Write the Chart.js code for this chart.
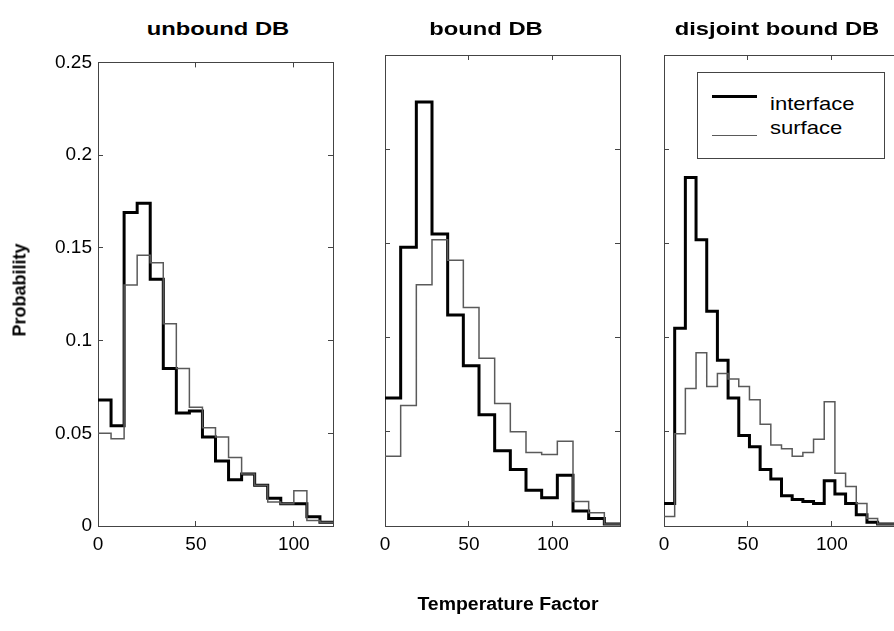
<!DOCTYPE html>
<html>
<head>
<meta charset="utf-8">
<script src="https://cdn.jsdelivr.net/npm/chart.js@4.4.0/dist/chart.umd.min.js"></script>
<style>
  body { margin: 0; background: #fff; overflow: hidden; }
  #wrap { position: relative; width: 894px; height: 631px; overflow: hidden; font-family: "Liberation Sans", Arial, sans-serif; color: #000; }
  canvas.panel { position: absolute; top: 40px; }
  .title { position: absolute; top: 19px; font-weight: bold; font-size: 18px; white-space: nowrap; transform: translateX(-50%) scaleX(1.32); }
  #xlabel { position: absolute; left: 508px; top: 594px; font-weight: bold; font-size: 18px; white-space: nowrap; transform: translateX(-50%) scaleX(1.08); }
  #ylabel { position: absolute; left: 20px; top: 290px; font-weight: bold; font-size: 18px; white-space: nowrap; transform: translate(-50%, -50%) rotate(-90deg); }
  #legend { position: absolute; left: 697px; top: 72px; width: 186px; height: 85px; border: 1px solid #444; background: #fff; }
  .lline { position: absolute; left: 14px; width: 45px; }
  .ltext { position: absolute; left: 72px; font-size: 19px; white-space: nowrap; transform-origin: left center; transform: scaleX(1.16); }
</style>
</head>
<body>
<div id="wrap">
  <canvas id="panel1" class="panel" width="348" height="531" style="left:0px"></canvas>
  <canvas id="panel2" class="panel" width="290" height="531" style="left:345px"></canvas>
  <canvas id="panel3" class="panel" width="290" height="531" style="left:624px"></canvas>
  <div class="title" style="left:218px">unbound DB</div>
  <div class="title" style="left:486px">bound DB</div>
  <div class="title" style="left:777px">disjoint bound DB</div>
  <div id="ylabel">Probability</div>
  <div id="xlabel">Temperature Factor</div>
  <div id="legend">
    <div class="lline" style="top:22px;height:0;border-top:3px solid #000"></div>
    <div class="ltext" style="top:20px">interface</div>
    <div class="lline" style="top:62px;height:0;border-top:1.5px solid #5a5a5a"></div>
    <div class="ltext" style="top:44px">surface</div>
  </div>
</div>
<script>
// tick values, same for all three panels
const xTicks = [0, 50, 100];
const yTicks = [0, 0.05, 0.1, 0.15, 0.2, 0.25];

// unbound DB, 18 bins over 0..120
const unboundMax = 120;
const unboundInterface = [0.068, 0.054, 0.169, 0.174, 0.133, 0.085, 0.061, 0.062, 0.048, 0.035, 0.025, 0.028, 0.022, 0.015, 0.012, 0.012, 0.005, 0.002];
const unboundSurface = [0.050, 0.047, 0.130, 0.146, 0.142, 0.109, 0.085, 0.064, 0.053, 0.048, 0.037, 0.028, 0.022, 0.013, 0.012, 0.019, 0.003, 0.002];

// bound DB, 15 bins over 0..140
const boundMax = 140;
const boundInterface = [0.068, 0.148, 0.225, 0.155, 0.112, 0.085, 0.059, 0.040, 0.030, 0.019, 0.015, 0.027, 0.008, 0.004, 0.001];
const boundSurface = [0.037, 0.064, 0.128, 0.152, 0.141, 0.116, 0.089, 0.065, 0.050, 0.039, 0.038, 0.045, 0.013, 0.007, 0.001];

// disjoint bound DB, 22 bins over 0..140
const disjointMax = 140;
const disjointInterface = [0.012, 0.105, 0.185, 0.152, 0.114, 0.088, 0.068, 0.048, 0.042, 0.030, 0.025, 0.016, 0.014, 0.013, 0.012, 0.024, 0.017, 0.012, 0.006, 0.002, 0.001, 0.001];
const disjointSurface = [0.005, 0.049, 0.073, 0.092, 0.074, 0.081, 0.078, 0.074, 0.067, 0.054, 0.043, 0.041, 0.037, 0.039, 0.046, 0.066, 0.028, 0.021, 0.012, 0.004, 0.001, 0.001];

const fontFam = '"Liberation Sans", Arial, sans-serif';
const axisColor = '#444';

// histogram -> points at the left edge of every bin, plus the right end
function steps(values, xmax) {
  const w = xmax / values.length;
  const pts = values.map((v, i) => ({ x: i * w, y: v }));
  pts.push({ x: xmax, y: values[values.length - 1] });
  return pts;
}

function setTicks(list) {
  return (s) => { s.ticks = list.map(v => ({ value: v })); };
}

function makePanel(id, iface, surf, xmax, yWidth, showY) {
  const grid = { drawOnChartArea: false, tickLength: -5, color: axisColor };
  new Chart(document.getElementById(id), {
    type: 'line',
    data: {
      datasets: [
        { label: 'surface', data: steps(surf, xmax), stepped: true, borderColor: '#5a5a5a', borderWidth: 1.5, pointRadius: 0, fill: false },
        { label: 'interface', data: steps(iface, xmax), stepped: true, borderColor: '#000', borderWidth: 3, pointRadius: 0, fill: false },
      ],
    },
    options: {
      responsive: false,
      animation: false,
      layout: { padding: { top: 15, right: 15, left: 0, bottom: 0 } },
      plugins: { legend: { display: false }, tooltip: { enabled: false } },
      scales: {
        x: {
          type: 'linear', position: 'bottom', min: 0, max: xmax,
          afterBuildTicks: setTicks(xTicks),
          afterFit: (s) => { s.height = 45; },
          grid: grid, border: { color: axisColor },
          ticks: { color: '#000', font: { size: 19, family: fontFam }, padding: 12, maxRotation: 0, autoSkip: false },
        },
        x2: {
          type: 'linear', position: 'top', min: 0, max: xmax,
          afterBuildTicks: setTicks(xTicks),
          afterFit: (s) => { s.height = 0; },
          grid: grid, border: { color: axisColor },
          ticks: { display: false },
        },
        y: {
          type: 'linear', position: 'left', min: 0, max: 0.25,
          afterBuildTicks: setTicks(yTicks),
          afterFit: (s) => { s.width = yWidth; },
          grid: grid, border: { color: axisColor },
          ticks: { display: showY, color: '#000', font: { size: 19, family: fontFam }, padding: 11, callback: (v) => String(v) },
        },
        y2: {
          type: 'linear', position: 'right', min: 0, max: 0.25,
          afterBuildTicks: setTicks(yTicks),
          afterFit: (s) => { s.width = 0; },
          grid: grid, border: { color: axisColor },
          ticks: { display: false },
        },
      },
    },
  });
}

makePanel('panel1', unboundInterface, unboundSurface, unboundMax, 98, true);
makePanel('panel2', boundInterface, boundSurface, boundMax, 40, false);
makePanel('panel3', disjointInterface, disjointSurface, disjointMax, 40, false);
</script>
</body>
</html>
